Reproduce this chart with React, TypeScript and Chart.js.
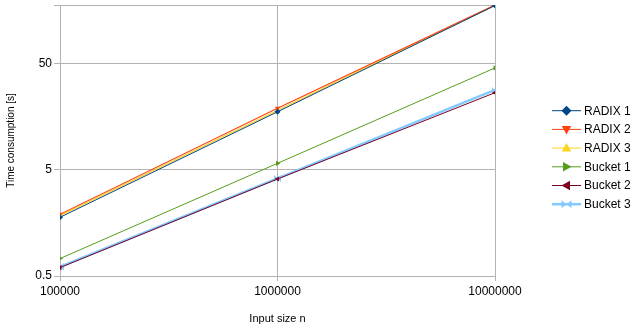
import React, { useEffect, useRef } from "react";
import { Chart, registerables } from "chart.js";

Chart.register(...registerables);

const inputSizes = [100000, 1000000, 10000000];
const seriesNames = ["RADIX 1", "RADIX 2", "RADIX 3", "Bucket 1", "Bucket 2", "Bucket 3"];
const radix1 = [1.79, 17.7, 178];
const radix2 = [1.91, 19.1, 180];
const radix3 = [1.85, 18.2, 179];
const bucket1 = [0.73, 5.78, 45.9];
const bucket2 = [0.6, 4.11, 26.8];
const bucket3 = [0.61, 4.16, 28.4];
const yTicks = [0.5, 5, 50];
const xTicks = [100000, 1000000, 10000000];

const colors = ["#004586", "#ff420e", "#ffd320", "#579d1c", "#7e0021", "#83caff"];
const FONT = "'Liberation Sans', Arial, sans-serif";

function bowtie(size: number, color: string) {
  const c = document.createElement("canvas");
  c.width = size;
  c.height = size;
  const ctx = c.getContext("2d")!;
  ctx.fillStyle = color;
  ctx.beginPath();
  ctx.moveTo(0, 0);
  ctx.lineTo(size / 2, size / 2);
  ctx.lineTo(0, size);
  ctx.closePath();
  ctx.moveTo(size, 0);
  ctx.lineTo(size / 2, size / 2);
  ctx.lineTo(size, size);
  ctx.closePath();
  ctx.fill();
  return c;
}

function drawMarker(ctx: CanvasRenderingContext2D, style: any, rot: number, x: number, y: number, r: number, color: string) {
  ctx.save();
  ctx.fillStyle = color;
  ctx.translate(x, y);
  if (style === "rectRot") {
    ctx.beginPath();
    ctx.moveTo(0, -r);
    ctx.lineTo(r, 0);
    ctx.lineTo(0, r);
    ctx.lineTo(-r, 0);
    ctx.closePath();
    ctx.fill();
  } else if (style === "triangle") {
    ctx.rotate((rot * Math.PI) / 180);
    ctx.beginPath();
    ctx.moveTo(0, -r);
    ctx.lineTo(r * 0.95, r * 0.7);
    ctx.lineTo(-r * 0.95, r * 0.7);
    ctx.closePath();
    ctx.fill();
  } else {
    ctx.beginPath();
    ctx.moveTo(-r, -r * 0.8);
    ctx.lineTo(0, 0);
    ctx.lineTo(-r, r * 0.8);
    ctx.closePath();
    ctx.moveTo(r, -r * 0.8);
    ctx.lineTo(0, 0);
    ctx.lineTo(r, r * 0.8);
    ctx.closePath();
    ctx.fill();
  }
  ctx.restore();
}

export default function App() {
  const ref = useRef<HTMLCanvasElement>(null);
  useEffect(() => {
    const values = [radix1, radix2, radix3, bucket1, bucket2, bucket3];
    const styles: any[] = ["rectRot", "triangle", "triangle", "triangle", "triangle", bowtie(7, colors[5])];
    const rotations = [0, 180, 0, 90, 270, 0];
    const widths = [1, 1.2, 1.2, 1, 1, 2.5];
    const datasets = seriesNames.map((name, i) => ({
      label: name,
      data: inputSizes.map((x, j) => ({ x, y: values[i][j] })),
      borderColor: colors[i],
      backgroundColor: colors[i],
      borderWidth: widths[i],
      pointStyle: styles[i],
      pointRotation: rotations[i],
      pointRadius: 3,
      pointBorderWidth: 0,
      tension: 0,
    }));
    const legendPlugin = {
      id: "sideLegend",
      afterDraw(chart: any) {
        const ctx = chart.ctx as CanvasRenderingContext2D;
        ctx.save();
        chart.data.datasets.forEach((ds: any, i: number) => {
          const y = 110.7 + i * 18.7;
          ctx.strokeStyle = ds.borderColor;
          ctx.lineWidth = i === 5 ? 2.5 : 1;
          ctx.beginPath();
          ctx.moveTo(552, y);
          ctx.lineTo(581, y);
          ctx.stroke();
          drawMarker(ctx, i === 5 ? "bowtie" : ds.pointStyle, ds.pointRotation, 566.5, y, 5, ds.borderColor);
          ctx.fillStyle = "#000";
          ctx.font = `12px ${FONT}`;
          ctx.textBaseline = "middle";
          ctx.textAlign = "left";
          ctx.fillText(ds.label, 584, y + 0.5);
        });
        ctx.restore();
      },
    };
    const chart = new Chart(ref.current!, {
      type: "line",
      data: { datasets },
      options: {
        animation: false,
        responsive: false,
        layout: { padding: { top: 5, right: 145, left: 0, bottom: 0 } },
        plugins: { legend: { display: false }, tooltip: { enabled: false } },
        scales: {
          x: {
            type: "logarithmic",
            min: 100000,
            max: 10000000,
            afterBuildTicks: (s: any) => {
              s.ticks = xTicks.map((v) => ({ value: v }));
            },
            afterFit: (s: any) => {
              s.height = 59;
              s.paddingLeft = 0;
              s.paddingRight = 0;
            },
            ticks: {
              callback: (v: any) => String(v),
              color: "#000",
              font: { family: FONT, size: 12 },
              maxRotation: 0,
              padding: 3,
            },
            grid: { color: "#b3b3b3", tickLength: 5, lineWidth: 1 },
            border: { color: "#b3b3b3" },
            title: {
              display: true,
              text: "Input size n",
              color: "#000",
              font: { family: FONT, size: 11 },
              padding: { top: 0, bottom: 9 },
            },
          },
          y: {
            type: "logarithmic",
            min: 0.5,
            max: 180,
            afterBuildTicks: (s: any) => {
              s.ticks = [...yTicks, 180].map((v) => ({ value: v }));
            },
            afterFit: (s: any) => {
              s.width = 60;
              s.paddingTop = 0;
              s.paddingBottom = 0;
            },
            ticks: {
              callback: (v: any) => (yTicks.includes(v) ? String(v) : ""),
              color: "#000",
              font: { family: FONT, size: 12 },
              padding: 2,
            },
            grid: { color: "#b3b3b3", tickLength: 6, lineWidth: 1 },
            border: { color: "#b3b3b3" },
            title: {
              display: true,
              text: "Time consumption [s]",
              color: "#000",
              font: { family: FONT, size: 10 },
              padding: { top: 5, bottom: 0 },
            },
          },
        },
      },
      plugins: [legendPlugin],
    } as any);
    return () => chart.destroy();
  }, []);
  return (
    <div style={{ position: "absolute", left: 0, top: 0, width: 640, height: 335, background: "#fff" }}>
      <canvas ref={ref} width={640} height={335} style={{ width: 640, height: 335, display: "block" }} />
    </div>
  );
}
